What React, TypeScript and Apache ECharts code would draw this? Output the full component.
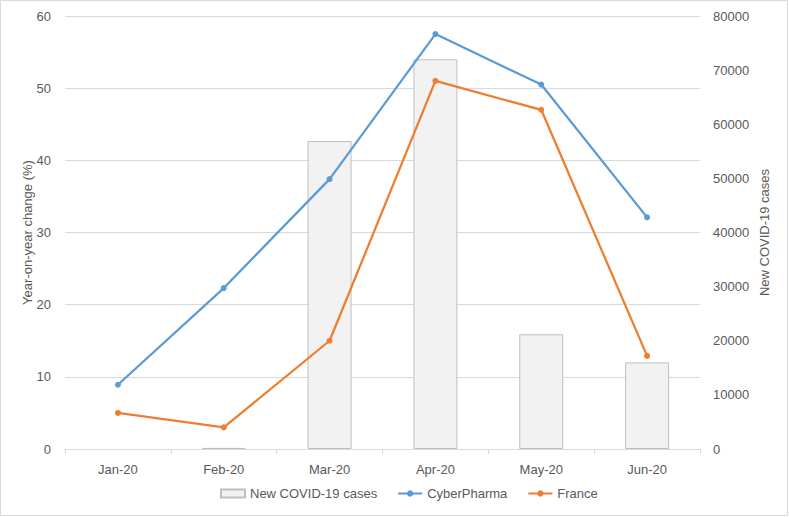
import React, { useEffect, useRef } from "react";
import * as echarts from "echarts";

const categories = ["Jan-20", "Feb-20", "Mar-20", "Apr-20", "May-20", "Jun-20"];
const newCases = [null, 200, 56900, 72000, 21200, 16000];
const cyberPharma = [8.9, 22.3, 37.4, 57.5, 50.5, 32.1];
const france = [5.0, 3.0, 15.0, 51.0, 47.0, 12.9];
const leftTicks = { min: 0, max: 60, interval: 10 };
const rightTicks = { min: 0, max: 80000, interval: 10000 };

const FONT = "'Liberation Sans', 'DejaVu Sans', sans-serif";
const TXT = "#595959";

export default function App() {
  const ref = useRef<HTMLDivElement>(null);
  useEffect(() => {
    if (!ref.current) return;
    const chart = echarts.init(ref.current, undefined, { renderer: "svg" });
    chart.setOption({
      animation: false,
      backgroundColor: "#ffffff",
      textStyle: { fontFamily: FONT, color: TXT },
      graphic: [
        {
          type: "rect",
          shape: { x: 0.5, y: 0.5, width: 787, height: 515 },
          style: { fill: "none", stroke: "#d9d9d9", lineWidth: 1 },
          silent: true,
        },
      ],
      grid: { left: 65, right: 89, top: 16, bottom: 68 },
      legend: {
        bottom: 12,
        left: 215,
        itemGap: 20,
        itemWidth: 24,
        itemHeight: 8,
        textStyle: { fontFamily: FONT, fontSize: 13, color: TXT },
        data: [
          { name: "New COVID-19 cases", icon: "rect" },
          { name: "CyberPharma" },
          { name: "France" },
        ],
      },
      xAxis: {
        type: "category",
        data: categories,
        axisLine: { lineStyle: { color: "#d9d9d9", width: 1 } },
        axisTick: { show: true, length: 5, lineStyle: { color: "#d9d9d9" } },
        axisLabel: { color: TXT, fontSize: 13, fontFamily: FONT, margin: 14 },
      },
      yAxis: [
        {
          type: "value",
          min: leftTicks.min,
          max: leftTicks.max,
          interval: leftTicks.interval,
          name: "Year-on-year change (%)",
          nameLocation: "middle",
          nameGap: 31,
          nameMoveOverlap: false,
          nameTextStyle: { color: TXT, fontSize: 13, fontFamily: FONT },
          axisLine: { show: false },
          axisTick: { show: false },
          axisLabel: { color: TXT, fontSize: 13, fontFamily: FONT, margin: 14 },
          splitLine: { lineStyle: { color: "#d9d9d9", width: 1 } },
        },
        {
          type: "value",
          min: rightTicks.min,
          max: rightTicks.max,
          interval: rightTicks.interval,
          name: "New COVID-19 cases",
          nameLocation: "middle",
          nameGap: 58,
          nameRotate: 90,
          nameMoveOverlap: false,
          nameTextStyle: { color: TXT, fontSize: 13, fontFamily: FONT },
          axisLine: { show: false },
          axisTick: { show: false },
          axisLabel: {
            color: TXT,
            fontSize: 13,
            fontFamily: FONT,
            margin: 13,
            formatter: (v: number) => String(v),
          },
          splitLine: { show: false },
        },
      ],
      series: [
        {
          name: "New COVID-19 cases",
          type: "bar",
          yAxisIndex: 1,
          data: newCases,
          barWidth: 44,
          itemStyle: { color: "#f2f2f2", borderColor: "#bfbfbf", borderWidth: 1 },
          z: 1,
        },
        {
          name: "CyberPharma",
          type: "line",
          yAxisIndex: 0,
          data: cyberPharma,
          symbol: "circle",
          symbolSize: 6,
          lineStyle: { color: "#5b9bd5", width: 2.25 },
          itemStyle: { color: "#5b9bd5" },
          z: 3,
        },
        {
          name: "France",
          type: "line",
          yAxisIndex: 0,
          data: france,
          symbol: "circle",
          symbolSize: 6,
          lineStyle: { color: "#ed7d31", width: 2.25 },
          itemStyle: { color: "#ed7d31" },
          z: 3,
        },
      ],
    });
    return () => chart.dispose();
  }, []);
  return <div ref={ref} style={{ width: 789, height: 517, position: "absolute", left: 0, top: 0 }} />;
}
